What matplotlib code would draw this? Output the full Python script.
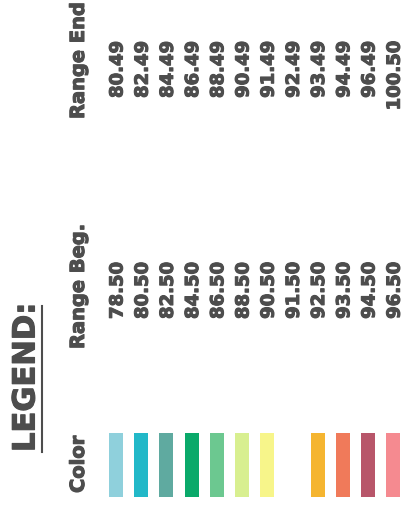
import matplotlib.pyplot as plt
import matplotlib.patheffects as pe

# Legend data (rows left to right)
COLORS      = ['#8fd0dc', '#22b8c8', '#5faaa0', '#0aa96a', '#6cc890', '#d8ef90',
               '#f7f58a', '#ffffff', '#f5b530', '#f07a5a', '#b8566a', '#f58a90']
RANGE_BEG   = ['78.50', '80.50', '82.50', '84.50', '86.50', '88.50',
               '90.50', '91.50', '92.50', '93.50', '94.50', '96.50']
RANGE_END   = ['80.49', '82.49', '84.49', '86.49', '88.49', '90.49',
               '91.49', '92.49', '93.49', '94.49', '96.49', '100.50']
HEADERS     = ['Color', 'Range Beg.', 'Range End']

TEXT_COLOR  = '#4d4d4d'
FONT        = 'DejaVu Sans'
HEAVY       = [pe.withStroke(linewidth=0.8, foreground=TEXT_COLOR)]

fig = plt.figure(figsize=(4.05, 5.06), dpi=100)
ax = fig.add_axes([0, 0, 1, 1])
ax.set_xlim(0, 405)
ax.set_ylim(506, 0)
ax.axis('off')

x0, dx = 116, 25.2
xs = [x0 + dx * i for i in range(len(COLORS))]

# colour swatches
ax.bar(xs, 64, bottom=434, width=14, color=COLORS)

# column values
for x, beg, end in zip(xs, RANGE_BEG, RANGE_END):
    ax.text(x + 1.5, 263, beg, rotation=90, ha='center', va='top', fontsize=13,
            fontweight='bold', color=TEXT_COLOR, family=FONT, path_effects=HEAVY)
    ax.text(x + 1.5, 42, end, rotation=90, ha='center', va='top', fontsize=13,
            fontweight='bold', color=TEXT_COLOR, family=FONT, path_effects=HEAVY)

# headers
for label, y in zip(HEADERS, [494, 350, 120]):
    ax.text(78.5, y, label, rotation=90, ha='center', va='bottom', fontsize=14,
            fontweight='bold', color=TEXT_COLOR, family=FONT, path_effects=HEAVY)

# title
ax.text(26, 453, 'LEGEND:', rotation=90, ha='center', va='bottom', fontsize=22,
        fontweight='bold', color=TEXT_COLOR, family=FONT, path_effects=HEAVY)
ax.plot([42, 42], [307, 453], color=TEXT_COLOR, lw=1.5)

fig.savefig('out.png', dpi=100)
